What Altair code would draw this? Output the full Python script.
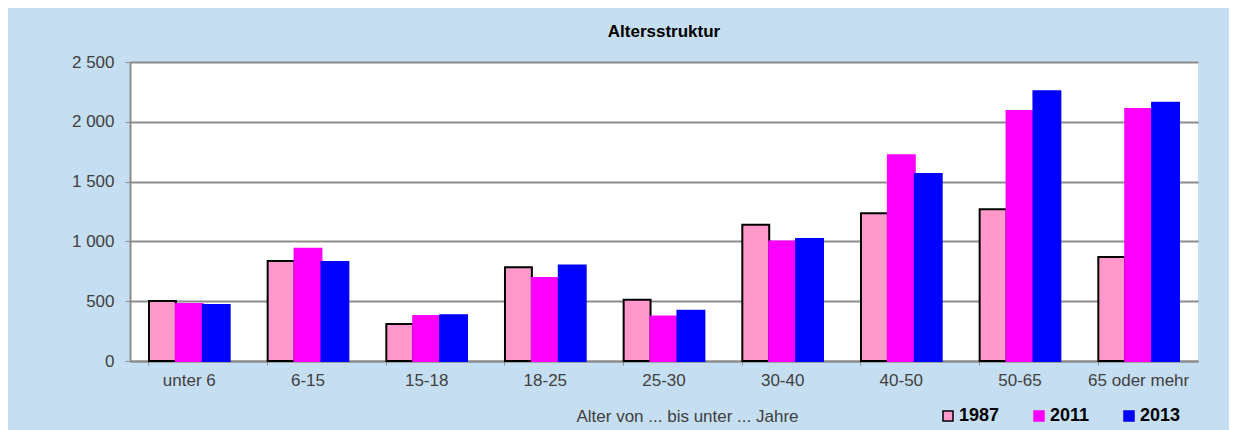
import altair as alt
import pandas as pd

categories = ["unter 6", "6-15", "15-18", "18-25", "25-30", "30-40", "40-50", "50-65", "65 oder mehr"]
years = ["1987", "2011", "2013"]
v1987 = [502, 836, 309, 784, 512, 1140, 1235, 1268, 870]
v2011 = [477, 939, 376, 695, 373, 1000, 1720, 2090, 2107]
v2013 = [468, 828, 382, 798, 420, 1020, 1563, 2255, 2160]
y_ticks = [0, 500, 1000, 1500, 2000, 2500]

fills = ["#FF99CC", "#FF00FF", "#0000FF"]
strokes = ["#000000", "#FF00FF", "#0000FF"]

rows = []
for yr, vals in zip(years, [v1987, v2011, v2013]):
    for c, v in zip(categories, vals):
        rows.append({"Alter": c, "Jahr": yr, "Wert": v})
df = pd.DataFrame(rows)

FONT = "Liberation Sans"

bars = alt.Chart(df).mark_bar(strokeWidth=2).encode(
    x=alt.X("Alter:N", sort=categories,
            scale=alt.Scale(paddingInner=0.32, paddingOuter=0.16),
            axis=alt.Axis(title="Alter von ... bis unter ... Jahre", labelAngle=0,
                          labelFontSize=17, labelColor="#404040", labelFont=FONT,
                          labelPadding=7, titleFont=FONT, titleFontSize=17,
                          titleFontWeight="normal", titleColor="#404040",
                          titlePadding=20, titleX=557, titleAnchor="middle",
                          domainColor="#8c8c8c", domainWidth=2,
                          tickColor="#8c8c8c", tickSize=4, bandPosition=0,
                          grid=False)),
    xOffset=alt.XOffset("Jahr:N", sort=years),
    y=alt.Y("Wert:Q", scale=alt.Scale(domain=[0, 2500], nice=False),
            axis=alt.Axis(title=None, values=y_ticks,
                          labelExpr="replace(format(datum.value, ','), ',', ' ')",
                          labelFontSize=17, labelColor="#404040", labelFont=FONT,
                          labelPadding=11, domainColor="#8c8c8c", domainWidth=2,
                          tickColor="#8c8c8c", tickSize=5,
                          grid=True, gridColor="#8c8c8c", gridWidth=2)),
    fill=alt.Fill("Jahr:N", sort=years,
                  scale=alt.Scale(domain=years, range=fills),
                  legend=alt.Legend(title=None, orient="none", direction="horizontal",
                                    legendX=809, legendY=345, padding=0,
                                    symbolType="square",
                                    symbolSize=100, symbolStrokeWidth=1.5,
                                    labelFontSize=18, labelFont=FONT, labelColor="#000000",
                                    labelFontWeight="bold", columnPadding=30,
                                    labelOffset=2)),
    stroke=alt.Stroke("Jahr:N", sort=years,
                      scale=alt.Scale(domain=years, range=strokes)),
)

chart = bars.properties(
    width=1068, height=299,
    title=alt.TitleParams("Altersstruktur", fontSize=17, font=FONT,
                          fontWeight="bold", color="#000000", anchor="middle",
                          offset=12),
    autosize=alt.AutoSizeParams(type="none"),
    padding={"left": 122, "top": 54, "right": 31, "bottom": 69},
).configure(background="#C6DEF1").configure_view(fill="white", stroke=None)

chart.save("out.html", embed_options={"renderer": "svg", "actions": False})
